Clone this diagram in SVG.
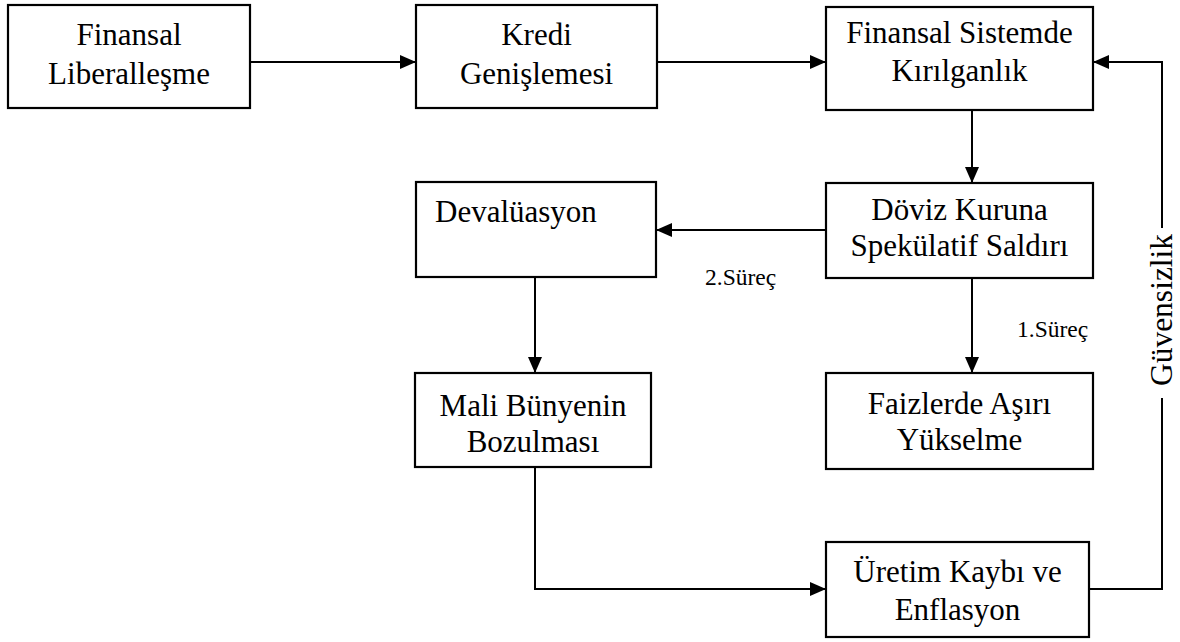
<svg xmlns="http://www.w3.org/2000/svg" width="1180" height="642" viewBox="0 0 1180 642">
<defs>
<style>
.box{fill:#fff;stroke:#000;stroke-width:2.2}
.t{font-family:"Liberation Serif","Times New Roman",serif;font-size:31px;fill:#000;text-anchor:middle}
.s{font-family:"Liberation Serif","Times New Roman",serif;font-size:23.5px;fill:#000}
.c{fill:none;stroke:#000;stroke-width:2}
</style>
<marker id="ah" markerWidth="16" markerHeight="14" refX="16" refY="7" orient="auto" markerUnits="userSpaceOnUse">
<path d="M0,0 L16,7 L0,14 Z" fill="#000"/>
</marker>
</defs>
<rect width="1180" height="642" fill="#fff"/>
<g id="connectors">
<path class="c" d="M250,62 H416" marker-end="url(#ah)"/>
<path class="c" d="M657,62 H826" marker-end="url(#ah)"/>
<path class="c" d="M972,110 V183" marker-end="url(#ah)"/>
<path class="c" d="M826,230 H656" marker-end="url(#ah)"/>
<path class="c" d="M972,278 V373" marker-end="url(#ah)"/>
<path class="c" d="M535,277 V373" marker-end="url(#ah)"/>
<path class="c" d="M535,467 V589 H826" marker-end="url(#ah)"/>
<path class="c" d="M1089,589 H1162 V398"/>
<path class="c" d="M1162,228 V62 H1093" marker-end="url(#ah)"/>
<text class="s" x="705" y="285">2.Süreç</text>
<text class="s" x="1017" y="337">1.Süreç</text>
<text class="t" style="font-size:31.5px;text-anchor:middle" transform="translate(1172,310) rotate(-90)">Güvensizlik</text>
</g>
<g id="n1"><rect class="box" x="8" y="5" width="242" height="103"/><text class="t" x="129" y="45">Finansal</text><text class="t" x="129" y="84">Liberalleşme</text></g>
<g id="n2"><rect class="box" x="416" y="5" width="241" height="103"/><text class="t" x="536.5" y="45">Kredi</text><text class="t" x="536.5" y="84">Genişlemesi</text></g>
<g id="n3"><rect class="box" x="826" y="7" width="267" height="103"/><text class="t" x="959.5" y="43">Finansal Sistemde</text><text class="t" x="959.5" y="81">Kırılganlık</text></g>
<g id="n4"><rect class="box" x="826" y="183" width="267" height="95"/><text class="t" x="959.5" y="220">Döviz Kuruna</text><text class="t" x="959.5" y="256">Spekülatif Saldırı</text></g>
<g id="n5"><rect class="box" x="416" y="182" width="240" height="95"/><text class="t" style="text-anchor:start" x="435" y="222">Devalüasyon</text></g>
<g id="n6"><rect class="box" x="415" y="373" width="236" height="94"/><text class="t" x="533" y="416">Mali Bünyenin</text><text class="t" x="533" y="452">Bozulması</text></g>
<g id="n7"><rect class="box" x="826" y="373" width="267" height="96"/><text class="t" x="959.5" y="414">Faizlerde Aşırı</text><text class="t" x="959.5" y="450">Yükselme</text></g>
<g id="n8"><rect class="box" x="826" y="542" width="263" height="95"/><text class="t" x="957.5" y="582">Üretim Kaybı ve</text><text class="t" x="957.5" y="620">Enflasyon</text></g>
</svg>
